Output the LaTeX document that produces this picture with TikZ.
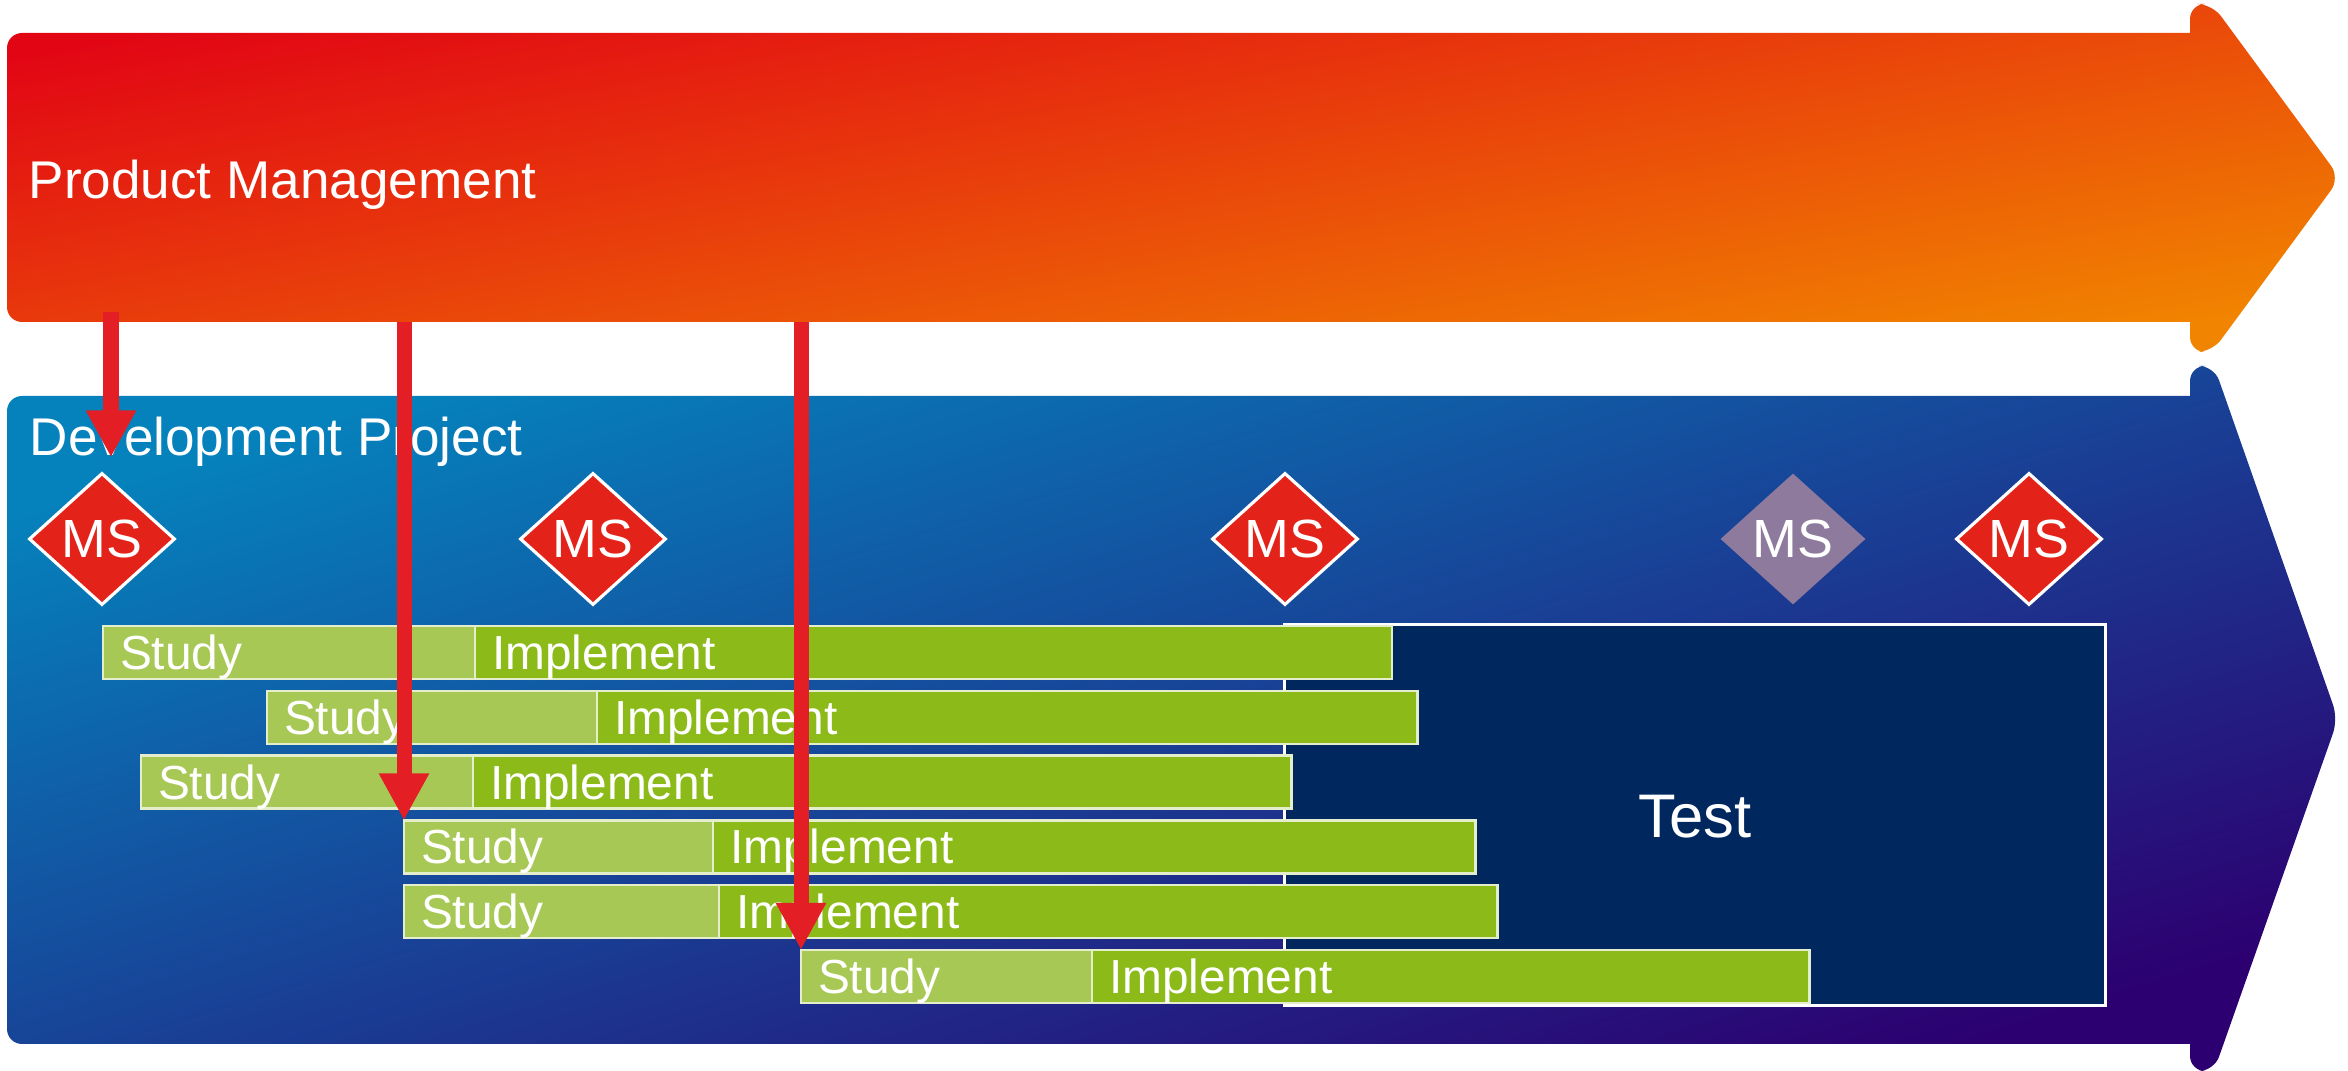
\documentclass[tikz,border=0pt]{standalone}
\usepackage{fontspec}
\setmainfont{Liberation Sans}
\usepackage{tikz}
\usetikzlibrary{shapes.geometric, arrows.meta, positioning}
\definecolor{pmred}{RGB}{226,6,20}
\definecolor{pmmid}{RGB}{231,66,16}
\definecolor{pmorange}{RGB}{241,132,0}
\definecolor{dpcyan}{RGB}{5,130,188}
\definecolor{dpblue}{RGB}{24,78,160}
\definecolor{dppurple}{RGB}{44,0,112}
\definecolor{msred}{RGB}{227,35,26}
\definecolor{msgrey}{RGB}{142,122,156}
\definecolor{studygreen}{RGB}{168,200,85}
\definecolor{implgreen}{RGB}{139,186,25}
\definecolor{testblue}{RGB}{0,40,94}
\definecolor{linkred}{RGB}{227,30,36}
\tikzstyle{arrow} = [line width=0.15cm, linkred, -{Triangle[width=0.47cm,length=0.47cm]}]
\tikzstyle{ms} = [diamond, draw=white, line width=0.9pt, fill=msred, text=white, minimum width=1.46cm, minimum height=1.32cm, inner sep=0pt, font=\fontsize{15.3}{18}\selectfont]
\tikzstyle{msopen} = [ms, draw=none, fill=msgrey]
\tikzstyle{task} = [draw=white!70!studygreen, line width=0.7pt, minimum height=0.53cm, inner xsep=0.17cm, inner ysep=0pt, outer sep=0pt, align=left, text=white, text height=9.7pt, text depth=0pt, font=\fontsize{13.6}{16}\selectfont]
\tikzstyle{study} = [task, fill=studygreen]
\tikzstyle{impl} = [task, fill=implgreen]
\tikzstyle{title} = [text=white, inner sep=0pt, anchor=base west, font=\fontsize{15.1}{18}\selectfont]
\tikzstyle{testbox} = [draw=white, line width=0.9pt, fill=testblue, text=white, minimum width=8.2cm, minimum height=3.8cm, inner sep=0pt, text height=12.6pt, text depth=0pt, font=\fontsize{17.5}{21}\selectfont]

\begin{document}
\begin{tikzpicture}[x=0.01cm, y=-0.01cm]
\useasboundingbox (0,0) rectangle (2348,1071);
% product management arrow
\shade[top color=pmred, middle color=pmmid, bottom color=pmorange, shading angle=10]
  (7,178) [rounded corners=0.15cm] -- (7,33) [sharp corners] -- (2190,33) [rounded corners=0.15cm] -- (2190,4) -- (2212,4) -- (2340,178) -- (2212,352) -- (2190,352) [sharp corners] -- (2190,322) [rounded corners=0.15cm] -- (7,322) -- cycle;
\node (pm) [title] at (28,199) {Product Management};
% development project arrow
\shade[top color=dpcyan, middle color=dpblue, bottom color=dppurple, shading angle=17]
  (7,720) [rounded corners=0.15cm] -- (7,396) [sharp corners] -- (2190,396) [rounded corners=0.15cm] -- (2190,366) -- (2214,366) -- (2338,719) -- (2214,1071) -- (2190,1071) [sharp corners] -- (2190,1044) [rounded corners=0.15cm] -- (7,1044) -- cycle;
\node (dp) [title] at (29,456) {Development Project};
% milestones
\node (ms1) [ms] at (102,539) {MS};
\node (ms2) [ms] at (593,539) {MS};
\node (ms3) [ms] at (1285,539) {MS};
\node (ms4) [msopen] at (1793,539) {MS};
\node (ms5) [ms] at (2029,539) {MS};
% test phase
\node (test) [testbox] at (1695,815) {Test};
% tasks
\node (s1) [study, anchor=north west, text width=3.38cm] at (103,626) {Study};
\node (i1) [impl, right=0pt of s1, text width=8.82cm] {Implement};
\node (s2) [study, anchor=north west, text width=2.96cm] at (267,690.8) {Study};
\node (i2) [impl, right=0pt of s2, text width=7.86cm] {Implement};
\node (s3) [study, anchor=north west, text width=2.98cm] at (141,755.6) {Study};
\node (i3) [impl, right=0pt of s3, text width=7.84cm] {Implement};
\node (s4) [study, anchor=north west, text width=2.75cm] at (404,820.4) {Study};
\node (i4) [impl, right=0pt of s4, text width=7.28cm] {Implement};
\node (s5) [study, anchor=north west, text width=2.81cm] at (404,885.2) {Study};
\node (i5) [impl, right=0pt of s5, text width=7.44cm] {Implement};
\node (s6) [study, anchor=north west, text width=2.57cm] at (801,950) {Study};
\node (i6) [impl, right=0pt of s6, text width=6.83cm] {Implement};
% links from product management
\coordinate (pmb) at (0,322);
\coordinate (pm1) at (111,312);
\draw [arrow, shorten >=0.14cm] (pm1) -- (pm1 |- ms1.north);
\draw [arrow] (s4.north west |- pmb) -- (s4.north west);
\draw [arrow] (s6.north west |- pmb) -- (s6.north west);
\end{tikzpicture}
\end{document}
